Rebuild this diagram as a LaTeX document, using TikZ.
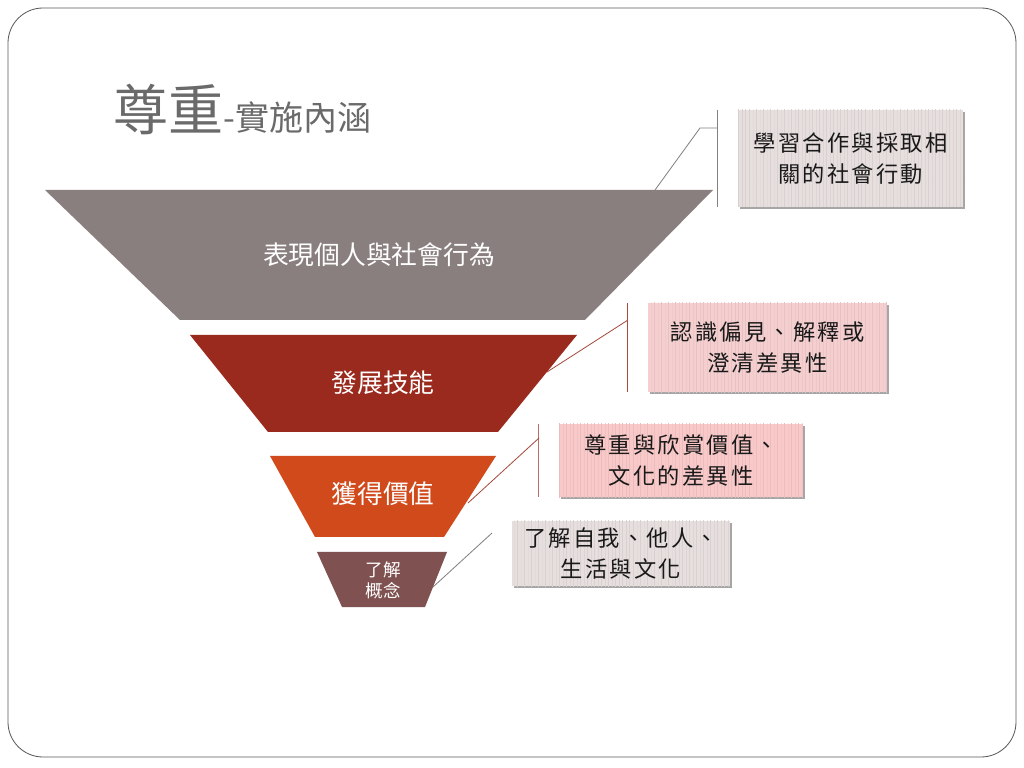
\documentclass[tikz,border=0pt]{standalone}
\usepackage{fontspec}
\setmainfont{Noto Sans CJK TC}
\newfontfamily\kai[LetterSpace=10]{Noto Sans CJK TC}
\usetikzlibrary{calc,patterns,shadows}

\definecolor{frameC}{HTML}{5A5A5A}
\definecolor{titleC}{HTML}{6A6A6A}
\definecolor{actC}{HTML}{8A7F7F}
\definecolor{skillC}{HTML}{9B2A1E}
\definecolor{valueC}{HTML}{D04A1C}
\definecolor{ideaC}{HTML}{7F5150}
\definecolor{greyBox}{HTML}{E7DEDE}
\definecolor{pinkBox}{HTML}{F5CFCF}
\definecolor{roseBox}{HTML}{F9C9C9}
\definecolor{lineGrey}{HTML}{858080}
\definecolor{lineRed}{HTML}{A54A3C}

\begin{document}
\begin{tikzpicture}[x=0.03cm,y=-0.03cm,
		lbl/.style={text=white,inner sep=0pt,font=\fontsize{22}{24}\selectfont},
		callout/.style={fill=#1,align=center,inner sep=0pt,text=black!90,
			font=\kai\fontsize{19}{27}\selectfont,
			drop shadow={shadow xshift=1.5pt,shadow yshift=-2pt,fill=black,opacity=0.35},
			postaction={pattern=vertical lines,pattern color=#1!94!black}},
		bar/.style={draw=#1,line width=1.2pt},
		link/.style={draw=#1,line width=0.7pt}]
	\useasboundingbox (0,0) rectangle (1024,768);
	\fill[white] (0,0) rectangle (1024,768);
	\draw[frameC,line width=0.7pt,rounded corners=1.05cm] (8,8) rectangle (1016,757);

	\node[anchor=base west,inner sep=0pt,text=titleC] (title) at (113,131)
		{{\fontsize{47}{47}\selectfont 尊重}{\fontsize{29}{29}\selectfont -實施內涵}};

	\fill[actC] (45,190) -- (713,190) -- (585,320) -- (180,320) -- cycle;
	\fill[skillC] (190,335) -- (577,335) -- (498,432) -- (268,432) -- cycle;
	\fill[valueC] (270,456) -- (496,456) -- (444,537) -- (315,537) -- cycle;
	\fill[ideaC] (317,552) -- (447,552) -- (425,607) -- (342,607) -- cycle;

	\node[lbl] (act) at (379,255) {表現個人與社會行為};
	\node[lbl] (skill) at (383,383) {發展技能};
	\node[lbl] (value) at (383,494) {獲得價值};
	\node[lbl,align=center,font=\fontsize{15}{18}\selectfont] (idea) at (383,580) {了解\\概念};

	\node[callout=greyBox,minimum width=6.75cm,minimum height=2.91cm] (c1) at (850.5,158.5) {學習合作與採取相\\關的社會行動};
	\node[callout=pinkBox,minimum width=7.17cm,minimum height=2.67cm] (c2) at (767.5,347.5) {認識偏見、解釋或\\澄清差異性};
	\node[callout=roseBox,minimum width=7.32cm,minimum height=2.19cm] (c3) at (681,460.5) {尊重與欣賞價值、\\文化的差異性};
	\node[callout=greyBox,minimum width=6.54cm,minimum height=1.95cm] (c4) at (621,553.5) {了解自我、他人、\\生活與文化};

	\coordinate (b1t) at ([xshift=-0.6cm]c1.north west);
	\coordinate (b1b) at ([xshift=-0.6cm]c1.south west);
	\coordinate (b2t) at ([xshift=-0.6cm]c2.north west);
	\coordinate (b2b) at ([xshift=-0.6cm]c2.south west);
	\coordinate (b3t) at ([xshift=-0.6cm]c3.north west);
	\coordinate (b3b) at ([xshift=-0.6cm]c3.south west);
	\draw[bar=lineGrey] (b1t) -- (b1b);
	\draw[bar=lineRed] (b2t) -- (b2b);
	\draw[bar=lineRed!80] (b3t) -- (b3b);

	\coordinate (s1) at (655,190);
	\coordinate (k1) at (700,128);
	\coordinate (s2) at (547,372);
	\coordinate (k2) at (628,320);
	\coordinate (s3) at (468,503);
	\coordinate (k3) at (539,438);
	\coordinate (s4) at (433,587);
	\coordinate (k4) at (492,533);
	\draw[link=lineGrey] (s1) -- (k1) -- (k1 -| b1t);
	\draw[link=lineRed] (s2) -- (k2);
	\draw[link=lineRed] (s3) -- (k3);
	\draw[link=lineGrey] (s4) -- (k4);
\end{tikzpicture}
\end{document}
